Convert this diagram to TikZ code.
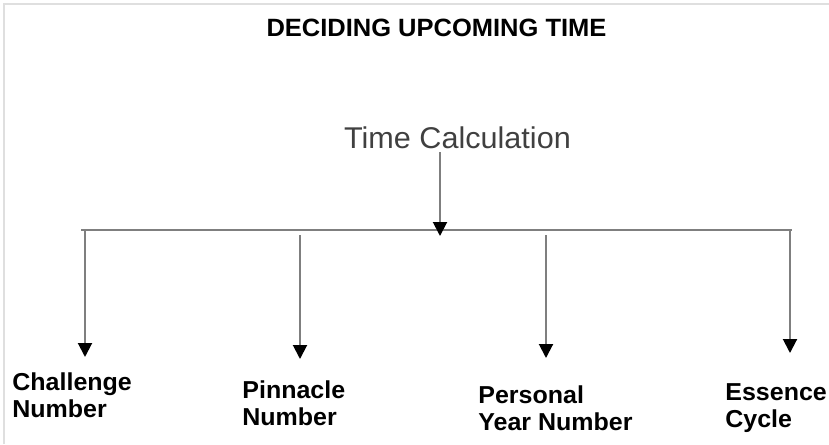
\documentclass[tikz,border=0pt]{standalone}
\usepackage{fontspec}
\setmainfont{Liberation Sans}
\newfontfamily\widefont[FakeStretch=1.02]{Liberation Sans}
\usetikzlibrary{arrows.meta}
\definecolor{linegray}{HTML}{7F7F7F}
\definecolor{calcgray}{HTML}{404040}

\begin{document}
\begin{tikzpicture}[x=1pt,y=-1pt,thick]
        %
        % `heading' is the title, `calc' the top node.
        % `leaf' is used for the four labels at the bottom.
        % `link' is used for the gray arrows.
        \tikzstyle{heading} = [font=\widefont\bfseries\fontsize{25}{29}\selectfont,inner sep=0pt]
        \tikzstyle{calc} = [text=calcgray,font=\widefont\fontsize{30}{34}\selectfont]
        \tikzstyle{leaf} = [font=\widefont\bfseries\fontsize{24.5}{27}\selectfont,align=left,inner sep=0pt,anchor=north west]
        \tikzstyle{link} = [draw=linegray,line width=2pt,-{Triangle[width=14pt,length=14pt,color=black]}]
        \useasboundingbox (0,0) rectangle (829,444);
        %
        % Frame
        \draw[gray!25,line width=1.5pt] (4,444) -- (4,4) -- (829,4);
        %
        % Title
        \node[heading,anchor=base] (title) at (436.5,37) {DECIDING UPCOMING TIME};
        \node[calc,anchor=base] (time) at (457.5,148) {Time Calculation};
        %
        % Bar
        \coordinate (barl) at (81,229.5);
        \coordinate (barr) at (792,229.5);
        \coordinate (hub) at (440,236);
        \draw[linegray,line width=2pt] (barl) -- (barr);
        \draw[link] (time.south -| hub) -- (hub);
        %
        % Branches
        \coordinate (top1) at (85,229.5);
        \coordinate (end1) at (85,357);
        \coordinate (top2) at (300,235);
        \coordinate (end2) at (300,359);
        \coordinate (top3) at (546,235);
        \coordinate (end3) at (546,358);
        \coordinate (top4) at (790,229.5);
        \coordinate (end4) at (790,353);
        \draw[link] (top1) -- (end1);
        \draw[link] (top2) -- (end2);
        \draw[link] (top3) -- (end3);
        \draw[link] (top4) -- (end4);
        %
        % Labels
        \node[leaf] (challenge) at (12,372) {Challenge\\Number};
        \node[leaf] (pinnacle) at (242,380) {Pinnacle\\Number};
        \node[leaf] (personal) at (478,385) {Personal\\Year Number};
        \node[leaf] (essence) at (725,383) {Essence\\Cycle};
        %
\end{tikzpicture}
\end{document}
